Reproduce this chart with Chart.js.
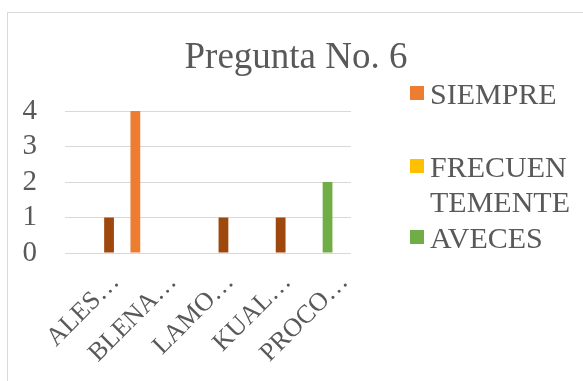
<!DOCTYPE html>
<html>
<head>
<meta charset="utf-8">
<script src="https://cdn.jsdelivr.net/npm/chart.js@4"></script>
<style>
    body { margin: 0; background: #fff; }
    .wrap { position: relative; width: 583px; height: 381px; overflow: hidden; background: #fff; }
    .frame { position: absolute; left: 7px; top: 12px; width: 620px; height: 420px; border: 1px solid #d9d9d9; box-sizing: border-box; }
    #chart { position: absolute; left: 0; top: 0; }
    .title { position: absolute; left: 171px; top: 34px; width: 250px; text-align: center; font-size: 37px; color: #595959; white-space: nowrap; }
    .legend { position: absolute; left: 410px; top: 0; font-size: 30px; color: #595959; }
    .serif { font-family: 'Liberation Serif', 'Times New Roman', Times, serif; }
    .legend-item { position: absolute; left: 0; white-space: nowrap; line-height: 35px; }
    .legend-item span.box { position: absolute; left: 0; top: 10px; width: 14px; height: 14px; }
    .legend-item span.text { display: block; margin-left: 20px; }
</style>
</head>
<body>
<div class="wrap">
    <div class="frame"></div>
    <canvas id="chart" width="583" height="381"></canvas>
    <div class="title serif" id="title"></div>
    <div class="legend serif" id="legend"></div>
</div>
<script>
const chartTitle = 'Pregunta No. 6';
const categories = ['ALES…', 'BLENA…', 'LAMO…', 'KUAL…', 'PROCO…'];
const seriesNames = ['SIEMPRE', 'FRECUENTEMENTE', 'AVECES', 'NUNCA'];
const seriesColors = ['#ed7d31', '#ffc000', '#70ad47', '#9e480e'];
const siempre = [0, 4, 0, 0, 0];
const frecuentemente = [0, 0, 0, 0, 0];
const aveces = [0, 0, 0, 0, 2];
const nunca = [1, 0, 1, 1, 0];
const yTicks = [0, 1, 2, 3, 4];

// legend as drawn in the original (fourth series is cut off there)
const legendLines = [['SIEMPRE'], ['FRECUEN', 'TEMENTE'], ['AVECES']];
const legendTops = [76, 149, 220];

const textColor = '#595959';
const serif = "'Liberation Serif', 'Times New Roman', Times, serif";

document.getElementById('title').textContent = chartTitle;

const legendEl = document.getElementById('legend');
legendLines.forEach((lines, i) => {
    const item = document.createElement('div');
    item.className = 'legend-item';
    item.style.top = legendTops[i] + 'px';
    item.innerHTML = `<span class="box" style="background:${seriesColors[i]}"></span>` +
        lines.map(l => `<span class="text">${l}</span>`).join('');
    legendEl.appendChild(item);
});

const seriesData = [siempre, frecuentemente, aveces, nunca];

new Chart(document.getElementById('chart'), {
    type: 'bar',
    data: {
        labels: categories,
        datasets: seriesNames.map((name, i) => ({
            label: name,
            data: seriesData[i],
            backgroundColor: seriesColors[i],
            borderWidth: 0,
            barPercentage: 0.95,
            categoryPercentage: 0.72
        }))
    },
    options: {
        responsive: false,
        animation: false,
        layout: {
            padding: { top: 111, right: 232, bottom: 0, left: 0 }
        },
        scales: {
            x: {
                grid: { display: false },
                border: { display: false },
                afterFit: axis => { axis.height = 128; },
                ticks: {
                    color: textColor,
                    font: { family: serif, size: 26 },
                    autoSkip: false,
                    minRotation: 45,
                    maxRotation: 45,
                    labelOffset: 22,
                    padding: 6
                }
            },
            y: {
                min: 0,
                max: 4,
                afterFit: axis => { axis.width = 65; },
                afterBuildTicks: axis => { axis.ticks = yTicks.map(v => ({ value: v })); },
                grid: { color: '#d9d9d9', lineWidth: 1, drawTicks: false },
                border: { display: false },
                ticks: {
                    color: textColor,
                    font: { family: serif, size: 29 },
                    autoSkip: false,
                    padding: 28
                }
            }
        },
        plugins: {
            legend: { display: false },
            title: { display: false },
            tooltip: { enabled: false }
        }
    }
});
</script>
</body>
</html>
